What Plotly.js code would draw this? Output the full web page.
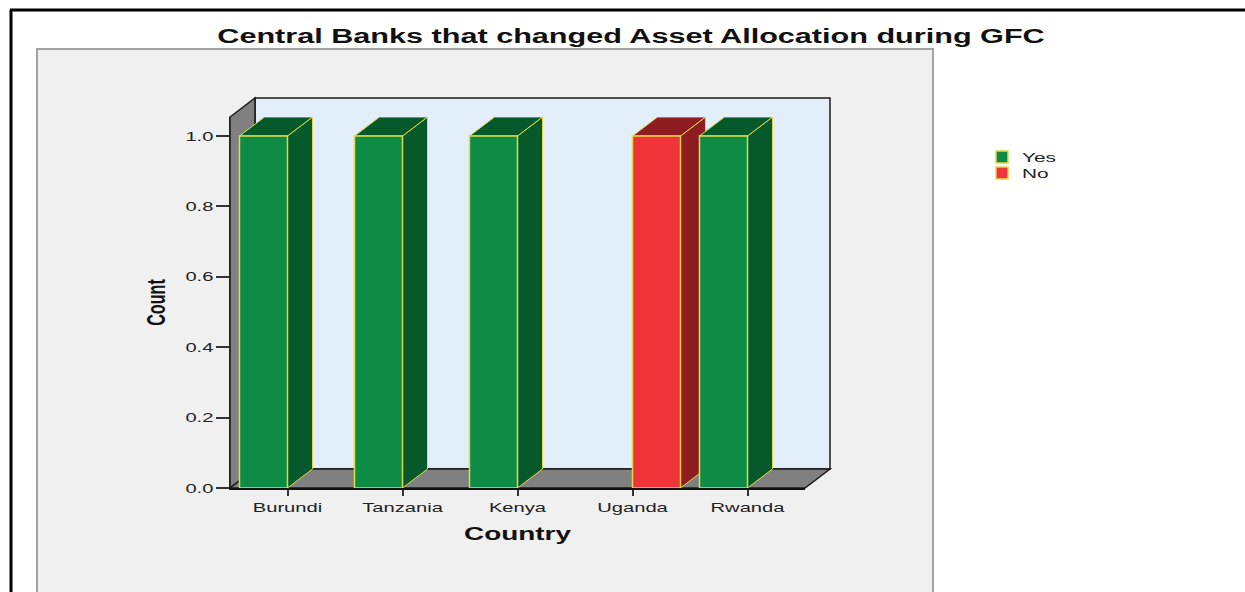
<!DOCTYPE html>
<html><head><meta charset="utf-8">
<script src="https://cdn.plot.ly/plotly-3.0.1.min.js"></script>
<style>html,body{margin:0;padding:0;background:#fff}</style>
</head><body><div id="chart" style="width:1245px;height:592px"></div>
<script>
// ---- data ----
const categories = ['Burundi', 'Tanzania', 'Kenya', 'Uganda', 'Rwanda'];
const yesCounts = [1, 1, 1, null, 1];
const noCounts = [null, null, null, 1, null];
const seriesNames = ['Yes', 'No'];
const yTickVals = [0, 0.2, 0.4, 0.6, 0.8, 1.0];
const chartTitle = 'Central Banks that changed Asset Allocation during GFC';
const xTitle = 'Country';
const yTitle = 'Count';

// ---- layout / style ----
const W = 1245, H = 592;
const M = {l: 230, r: 440, t: 117, b: 104};
const PW = W - M.l - M.r, PH = H - M.t - M.b;
const yMax = 1.054;
const depth = {x: 25, y: 19};
const bargap = 0.165;
const colors = [{front: '#0e8c45', dark: '#06592a'}, {front: '#f0343a', dark: '#8f1c20'}];
const edge = '#e0d94a';
const series = [yesCounts, noCounts];

const px2x = p => (p - M.l) / PW;
const py2y = p => (M.t + PH - p) / PH;
const dxP = depth.x / PW, dyP = depth.y / PH;
const dxD = depth.x / (PW / categories.length), dyD = depth.y * yMax / PH;
const bw = (1 - bargap) / 2;

const shapes = [];
// grey panel
shapes.push({type: 'rect', xref: 'paper', yref: 'paper', layer: 'below',
  x0: px2x(37), x1: px2x(933), y0: py2y(620), y1: py2y(49),
  fillcolor: '#f0f0f0', line: {color: '#a3a3a3', width: 2}});
// outer frame lines
shapes.push({type: 'line', xref: 'paper', yref: 'paper', layer: 'below',
  x0: px2x(11), x1: px2x(11), y0: py2y(10), y1: py2y(620), line: {color: '#000', width: 3}});
shapes.push({type: 'line', xref: 'paper', yref: 'paper', layer: 'below',
  x0: px2x(10), x1: px2x(1245), y0: py2y(10), y1: py2y(10), line: {color: '#000', width: 3}});
// back wall
shapes.push({type: 'rect', xref: 'paper', yref: 'paper', layer: 'below',
  x0: dxP, x1: 1 + dxP, y0: dyP, y1: 1 + dyP,
  fillcolor: '#e2eefa', line: {color: '#1a1a1a', width: 1.5}});
// left wall
shapes.push({type: 'path', xref: 'paper', yref: 'paper', layer: 'below',
  path: `M0,0 L0,1 L${dxP},${1 + dyP} L${dxP},${dyP} Z`,
  fillcolor: '#808080', line: {color: '#1a1a1a', width: 1.5}});
// floor
shapes.push({type: 'path', xref: 'paper', yref: 'paper', layer: 'below',
  path: `M0,0 L1,0 L${1 + dxP},${dyP} L${dxP},${dyP} Z`,
  fillcolor: '#808080', line: {color: '#1a1a1a', width: 1.5}});

// 3D top & side faces of the bars, computed from the data
categories.forEach((c, i) => {
  series.forEach((vals, s) => {
    const v = vals[i];
    if (v === null || v === undefined) return;
    const x0 = i + (s === 0 ? -bw : 0), x1 = x0 + bw;
    shapes.push({type: 'path', xref: 'x', yref: 'y', layer: 'below',
      path: `M${x1},0 L${x1},${v} L${x1 + dxD},${v + dyD} L${x1 + dxD},${dyD} Z`,
      fillcolor: colors[s].dark, line: {color: edge, width: 1}});
    shapes.push({type: 'path', xref: 'x', yref: 'y', layer: 'below',
      path: `M${x0},${v} L${x1},${v} L${x1 + dxD},${v + dyD} L${x0 + dxD},${v + dyD} Z`,
      fillcolor: colors[s].dark, line: {color: edge, width: 1}});
  });
});

const traces = series.map((vals, s) => ({
  type: 'bar', x: categories, y: vals, name: seriesNames[s],
  marker: {color: colors[s].front, line: {color: edge, width: 1.5}},
  hoverinfo: 'skip'
}));

const font = 'Arial, Liberation Sans, sans-serif';
const layout = {
  width: W, height: H, margin: M,
  paper_bgcolor: '#ffffff', plot_bgcolor: 'rgba(0,0,0,0)',
  barmode: 'group', bargap: bargap, bargroupgap: 0,
  showlegend: true,
  title: {text: chartTitle, font: {family: font, size: 20, weight: 'bold', color: '#111'},
    xref: 'container', yref: 'container', x: 631 / W, xanchor: 'center', y: 1 - 36 / H, yanchor: 'middle'},
  xaxis: {type: 'category', range: [-0.5, categories.length - 0.5], showgrid: false, zeroline: false,
    showline: true, linecolor: '#111', linewidth: 2,
    ticks: 'outside', ticklen: 6, tickwidth: 1.5, tickcolor: '#333',
    tickfont: {family: font, size: 13, color: '#222'},
    title: {text: xTitle, font: {family: font, size: 18, weight: 'bold', color: '#111'}, standoff: 14}},
  yaxis: {range: [0, yMax], tickvals: yTickVals, tickformat: '.1f', showgrid: false, zeroline: false,
    showline: true, linecolor: '#222', linewidth: 1,
    ticks: 'outside', ticklen: 13, tickwidth: 1.5, tickcolor: '#333',
    tickfont: {family: font, size: 13, color: '#222'},
    title: {text: yTitle, font: {family: font, size: 26, weight: 'bold', color: '#111'}, standoff: 22}},
  legend: {xref: 'container', yref: 'container', x: 982 / W, y: 1 - 142 / H, xanchor: 'left', yanchor: 'top',
    bgcolor: 'rgba(0,0,0,0)', font: {family: font, size: 13, color: '#222'}},
  shapes: shapes
};

function stretch(sel, f) {
  document.querySelectorAll(sel).forEach(t => {
    const w = t.getComputedTextLength();
    if (w > 0) {
      t.setAttribute('textLength', (w * f).toFixed(1));
      t.setAttribute('lengthAdjust', 'spacingAndGlyphs');
    }
  });
}

Plotly.newPlot('chart', traces, layout, {displayModeBar: false, responsive: false}).then(() => {
  stretch('.gtitle', 1.53);
  stretch('.xtick text', 1.55);
  stretch('.ytick text', 1.55);
  stretch('.xtitle', 1.55);
  stretch('.legendtext', 1.6);
  stretch('.ytitle', 0.62);
  document.querySelectorAll('.legend .scrollbox').forEach(g => g.removeAttribute('clip-path'));
  let y0 = null;
  document.querySelectorAll('.legend .traces').forEach((g, k) => {
    const m = /translate\(\s*([-\d.]+)\s*,\s*([-\d.]+)\s*\)/.exec(g.getAttribute('transform') || '');
    if (!m) return;
    if (y0 === null) y0 = +m[2];
    g.setAttribute('transform', `translate(${m[1]},${y0 + k * 16})`);
  });
});
</script></body></html>
